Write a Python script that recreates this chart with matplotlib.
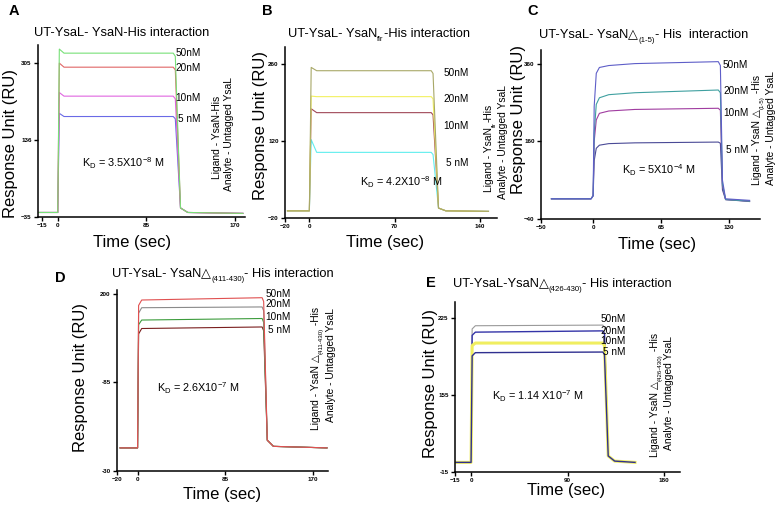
import matplotlib
matplotlib.use('Agg')
import matplotlib.pyplot as plt

plt.rcParams['font.family'] = ['Liberation Sans', 'DejaVu Sans']
plt.rcParams['mathtext.fontset'] = 'custom'
plt.rcParams['mathtext.rm'] = 'Liberation Sans'
plt.rcParams['mathtext.it'] = 'Liberation Sans:italic'
plt.rcParams['mathtext.bf'] = 'Liberation Sans:bold'

W, H = 780, 508
FAM = ['Liberation Sans', 'DejaVu Sans']

conc = ['50nM', '20nM', '10nM', '5 nM']

# sensorgram key points (time in sec, response in RU)
t_a = [-18, 0, 1.5, 6, 111, 113, 118, 125, 178]
a_50 = [-25, -25, 336, 327, 327, 320, -15, -25, -27]
a_20 = [-25, -25, 305, 296, 296, 290, -15, -25, -27]
a_10 = [-25, -25, 240, 232, 232, 226, -15, -25, -27]
a_5 = [-25, -25, 194, 187, 187, 182, -15, -25, -27]

t_b = [-18, 0, 1.5, 6, 100, 101.5, 106, 112, 147]
b_50 = [-7, -7, 253, 247, 247, 242, -2, -7, -8]
b_20 = [-7, -7, 201, 200, 200, 196, -2, -7, -8]
b_10 = [-7, -7, 178, 171, 171, 167, -2, -7, -8]
b_5 = [-7, -7, 122, 99, 99, 95, -2, -7, -8]

t_c = [-40, -2, 0, 1, 3, 6, 15, 40, 120, 122, 124, 127, 150]
c_50 = [12, 12, 20, 250, 335, 350, 355, 360, 365, 355, 60, 12, 8]
c_20 = [12, 12, 20, 180, 255, 272, 280, 285, 292, 285, 50, 10, 6]
c_10 = [12, 12, 20, 160, 215, 232, 238, 242, 245, 240, 45, 10, 6]
c_5 = [12, 12, 20, 110, 142, 150, 154, 156, 158, 155, 35, 10, 5]

t_d = [-17, 0, 1, 4, 121, 122.5, 126, 132, 184]
d_50 = [0, 0, 185, 192, 195, 190, 10, 2, 0]
d_20 = [0, 0, 175, 182, 183, 178, 10, 2, 0]
d_10 = [0, 0, 160, 166, 168, 163, 10, 2, 0]
d_5 = [0, 0, 148, 155, 157, 152, 10, 2, 0]

t_e = [-14, 0, 1, 4, 123, 124.5, 128, 134, 153]
e_50 = [0, 0, 208, 213, 214, 210, 10, 2, 0]
e_20 = [0, 0, 198, 203, 205, 200, 10, 2, 0]
e_10 = [0, 0, 182, 186, 186, 182, 10, 2, 0]
e_5 = [0, 0, 166, 171, 172, 168, 10, 2, 0]

col_a = ['#78e078', '#e06666', '#e066e0', '#6a6ae6']
col_b = ['#a8a868', '#f2f060', '#a04858', '#60eeee']
col_c = ['#5e5ec8', '#3fa0a0', '#a03ca0', '#4a4a96']
col_d = ['#e05050', '#8a8a8a', '#3c9c3c', '#7a1e1e']
col_e = ['#9a9a9a', '#3434a8', '#f0ee60', '#303090']

fig = plt.figure(figsize=(W / 100, H / 100), dpi=100)


def fx(x):
    return x / W


def fy(y):
    return 1 - y / H


def make_ax(l, t, r, b, xlim, ylim, xt, yt, ytl=None):
    ax = fig.add_axes([fx(l), fy(b), (r - l) / W, (b - t) / H])
    ax.set_xlim(*xlim)
    ax.set_ylim(*ylim)
    ax.set_xticks(xt)
    ax.set_yticks(yt)
    if ytl is not None:
        ax.set_yticklabels(ytl)
    for s in ['top', 'right']:
        ax.spines[s].set_visible(False)
    for s in ['left', 'bottom']:
        ax.spines[s].set_linewidth(1.1)
    ax.tick_params(direction='out', length=3, width=1, labelsize=4.5, pad=1.5)
    for lab in ax.get_xticklabels() + ax.get_yticklabels():
        lab.set_fontweight('bold')
    return ax


def traces(ax, t, ys, cols, lab_x, lab_y, lws=None, top_first=True):
    idx = list(range(len(ys)))
    if top_first:
        idx = idx[::-1]   # highest concentration drawn last
    for i in idx:
        lw = lws[i] if lws else 0.8
        ax.plot(t, ys[i], color=cols[i], lw=lw)
    for i, (name, y) in enumerate(zip(conc, lab_y)):
        x = lab_x + (2.5 if i == 3 else 0)
        ax.text(x, y, name, fontsize=7.2, va='center', ha='left')


def chain(ax, x, y, parts, size, rot=0):
    # parts: (text, scale, shift in points); subscripts get a shift
    base = None
    prev = None
    for s, sc, sh in parts:
        if base is None:
            if rot == 0:
                base = fig.text(fx(x), fy(y), s, fontsize=size * sc,
                                ha='left', va='baseline', family=FAM)
            else:
                base = fig.text(fx(x), fy(y), s, fontsize=size * sc,
                                rotation=90, ha='center', va='bottom',
                                family=FAM)
            prev = base
            continue
        if rot == 0:
            prev = ax.annotate(s, xy=(1, 0), xycoords=(prev, base),
                               xytext=(0, sh), textcoords='offset points',
                               ha='left', va='bottom', fontsize=size * sc,
                               family=FAM, annotation_clip=False)
        else:
            prev = ax.annotate(s, xy=(1, 1), xycoords=(base, prev),
                               xytext=(-sh, 0), textcoords='offset points',
                               ha='right', va='bottom', rotation=90,
                               fontsize=size * sc, family=FAM,
                               annotation_clip=False)
    return base


def labels(letter, lpos, ylpos, xlpos):
    fig.text(fx(lpos[0]), fy(lpos[1]), letter, fontsize=10.5,
             fontweight='bold', ha='left', va='baseline')
    fig.text(fx(ylpos[0]), fy(ylpos[1]), 'Response Unit (RU)', fontsize=12,
             rotation=90, ha='center', va='center')
    fig.text(fx(xlpos[0]), fy(xlpos[1]), 'Time (sec)', fontsize=12,
             ha='center', va='center')


def kd(x, y, s):
    fig.text(fx(x), fy(y), s, fontsize=7.8, ha='left', va='center')


SUB = 0.6

# ---- A
ax = make_ax(38, 45, 245, 217, (-19, 180), (-35, 345), [-15, 0, 85, 170],
             [-35, 136, 305])
traces(ax, t_a, [a_50, a_20, a_10, a_5], col_a, 113, [327, 294, 229, 182])
labels('A', (9, 15), (11, 144), (132, 242))
fig.text(fx(122), fy(36), 'UT-YsaL- YsaN-His interaction', fontsize=9.3,
         ha='center', va='baseline')
kd(82, 163, r'K$_\mathrm{D}$ = 3.5X10$^\mathrm{-8}$ M')
fig.text(fx(217), fy(137), 'Ligand - YsaN-His', fontsize=7.4, rotation=90,
         ha='center', va='center')
fig.text(fx(229), fy(134), 'Analyte - Untagged YsaL', fontsize=7.4,
         rotation=90, ha='center', va='center')

# ---- B
ax = make_ax(285, 47, 497, 218, (-20, 154), (-20, 290), [-20, 0, 70, 140],
             [-20, 120, 260])
traces(ax, t_b, [b_50, b_20, b_10, b_5], col_b, 110, [242, 195, 147, 80])
labels('B', (262, 15), (260, 125), (385, 243))
chain(ax, 288, 37, [('UT-YsaL- YsaN', 1, 0), ('flr', SUB, -2.5),
                    ('-His interaction', 1, 0)], 9.3)
kd(360, 182, r'K$_\mathrm{D}$ = 4.2X10$^\mathrm{-8}$ M')
chain(ax, 489, 192, [('Ligand - YsaN', 1, 0), ('flr', SUB, -2),
                     ('-His', 1, 0)], 7.4, rot=90)
fig.text(fx(503), fy(142), 'Analyte - Untagged YsaL', fontsize=7.4,
         rotation=90, ha='center', va='center')

# ---- C
ax = make_ax(541, 50, 760, 219, (-50, 160), (-40, 395), [-50, 0, 65, 130],
             [-40, 160, 360])
traces(ax, t_c, [c_50, c_20, c_10, c_5], col_c, 124.5, [357, 290, 233, 137])
labels('C', (527, 15), (518, 120), (657, 245))
chain(ax, 539, 38, [('UT-YsaL- YsaN', 1, 0), ('\u25b3', 1, 0),
                    ('(1-5)', SUB, -2.5), ('- His  interaction', 1, 0)], 9.3)
kd(622, 170, r'K$_\mathrm{D}$ = 5X10$^\mathrm{-4}$ M')
chain(ax, 757, 185, [('Ligand - YsaN ', 1, 0), ('\u25b3', 1, 0),
                     ('(1-5)', SUB, -2), (' -His', 1, 0)], 7.4, rot=90)
fig.text(fx(771), fy(128), 'Analyte - Untagged YsaL', fontsize=7.4,
         rotation=90, ha='center', va='center')

# ---- D
ax = make_ax(117, 290, 328, 471, (-20, 185), (-30, 205), [-20, 0, 85, 170],
             [-30, 85, 200], ['-30', '-85', '200'])
traces(ax, t_d, [d_50, d_20, d_10, d_5], col_d, 124, [200, 187, 170, 153])
labels('D', (55, 282), (80, 377), (222, 495))
chain(ax, 316, 430, [('Ligand - YsaN ', 1, 0), ('\u25b3', 1, 0),
                     ('(411-430)', SUB, -2), (' -His', 1, 0)], 7.4, rot=90)
chain(ax, 112, 277, [('UT-YsaL- YsaN', 1, 0), ('\u25b3', 1, 0),
                     ('(411-430)', SUB, -2.5), ('- His interaction', 1, 0)],
      9.3)
kd(157, 388, r'K$_\mathrm{D}$ = 2.6X10$^\mathrm{-7}$ M')
fig.text(fx(331), fy(365), 'Analyte - Untagged YsaL', fontsize=7.4,
         rotation=90, ha='center', va='center')

# ---- E
ax = make_ax(455, 302, 680, 472, (-15, 195), (-15, 250), [-15, 0, 90, 180],
             [-15, 105, 225], ['-15', '155', '225'])
traces(ax, t_e, [e_50, e_20, e_10, e_5], col_e, 121, [223.5, 205, 189, 172],
       lws=[0.8, 1.0, 2.2, 1.0], top_first=False)
labels('E', (426, 287), (430, 383), (566, 490))
chain(ax, 453, 287, [('UT-YsaL-YsaN', 1, 0), ('\u25b3', 1, 0),
                     ('(426-430)', SUB, -2.5), ('- His interaction', 1, 0)],
      9.3)
kd(492, 396, r'K$_\mathrm{D}$ = 1.14 X10$^\mathrm{-7}$ M')
chain(ax, 655, 457, [('Ligand - YsaN ', 1, 0), ('\u25b3', 1, 0),
                     ('(426-430)', SUB, -2), (' -His', 1, 0)], 7.4, rot=90)
fig.text(fx(669), fy(393), 'Analyte - Untagged YsaL', fontsize=7.4,
         rotation=90, ha='center', va='center')

fig.savefig('out.png', dpi=100)
